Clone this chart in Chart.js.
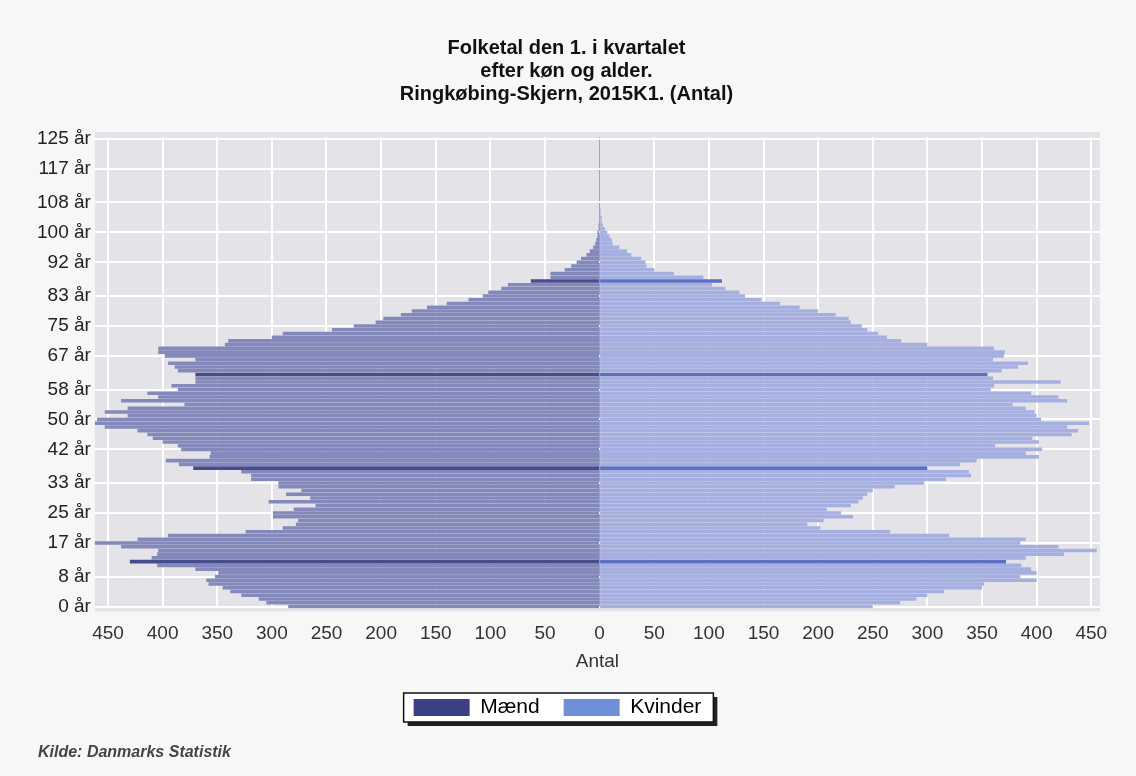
<!DOCTYPE html>
<html><head><meta charset="utf-8">
<script src="https://cdn.jsdelivr.net/npm/chart.js@4/dist/chart.umd.min.js"></script>
<style>
html,body{margin:0;padding:0;background:#f7f7f7;}
#wrap{position:relative;width:1136px;height:776px;}
#source{position:absolute;left:38px;top:743px;font:italic bold 16px "Liberation Sans",Arial,sans-serif;color:#444;}
</style></head><body>
<div id="wrap"><canvas id="c" width="1136" height="776"></canvas><div id="source">Kilde: Danmarks Statistik</div></div>
<script>
const ages = [0,1,2,3,4,5,6,7,8,9,10,11,12,13,14,15,16,17,18,19,20,21,22,23,24,25,26,27,28,29,30,31,32,33,34,35,36,37,38,39,40,41,42,43,44,45,46,47,48,49,50,51,52,53,54,55,56,57,58,59,60,61,62,63,64,65,66,67,68,69,70,71,72,73,74,75,76,77,78,79,80,81,82,83,84,85,86,87,88,89,90,91,92,93,94,95,96,97,98,99,100,101,102,103,104,105,106,107,108,109,110,111,112,113,114,115,116,117,118,119,120,121,122,123,124,125];
const maend = [285,305,312,328,338,345,358,360,352,349,370,405,430,410,405,404,438,466,423,395,324,290,278,276,299,299,280,260,303,265,287,273,294,294,319,319,328,372,385,397,357,356,383,386,400,409,414,423,453,466,460,432,453,432,380,438,404,414,386,392,370,370,370,386,389,395,370,398,404,404,343,340,300,290,245,225,205,198,182,172,158,140,120,107,102,90,84,63,45,45,32,26,21,17,12,9,6,4,3,2,2,1,1,0,0,0,0,0,0,0,0,0,0,0,0,0,0,0,0,0,0,0,0,0,0,0];
const kvinder = [250,275,290,300,315,350,352,400,385,400,395,386,372,390,425,455,420,385,390,320,266,202,190,205,232,221,208,230,237,241,245,250,270,297,317,340,338,300,330,345,402,390,405,362,402,396,432,438,428,448,404,400,398,390,378,428,420,395,358,361,422,360,355,368,383,392,360,370,371,361,300,276,263,255,245,240,230,228,216,200,183,165,148,133,128,115,103,112,95,68,50,43,42,38,29,25,18,12,11,9,7,5,3,2,2,1,1,0,0,0,0,0,0,0,0,0,0,0,0,0,0,0,0,0,0,0];
const yTickAges = [0,8,17,25,33,42,50,58,67,75,83,92,100,108,117,125];
const xTickValues = [-450,-400,-350,-300,-250,-200,-150,-100,-50,0,50,100,150,200,250,300,350,400,450];
const markedAges = [12,37,62,87];

const FONT = '"Liberation Sans", Arial, sans-serif';

const plotBg = {
  id:'plotBg',
  afterLayout(chart){
    const lg = chart.legend;
    if (lg){ lg.left -= 9; lg.right -= 9; }
  },
  beforeDraw(chart){
    const {ctx, chartArea:a} = chart;
    ctx.save();
    ctx.fillStyle = '#e4e4e8';
    ctx.fillRect(a.left, a.top-5, a.right-a.left, a.bottom-a.top+8);
    const hb = chart.legend && chart.legend.legendHitBoxes;
    if (hb && hb.length){
      let l=Infinity,r=-Infinity,t=Infinity,b=-Infinity;
      hb.forEach(h=>{l=Math.min(l,h.left);r=Math.max(r,h.left+h.width);t=Math.min(t,h.top);b=Math.max(b,h.top+h.height);});
      l-=10; r+=12; t-=4; b+=4;
      ctx.fillStyle='#222';
      ctx.fillRect(l+4,t+4,r-l,b-t);
      ctx.fillStyle='#ffffff';
      ctx.fillRect(l,t,r-l,b-t);
      ctx.strokeStyle='#111';
      ctx.lineWidth=1.5;
      ctx.strokeRect(l,t,r-l,b-t);
    }
    ctx.restore();
  }
};

new Chart(document.getElementById('c'), {
  type:'bar',
  data:{
    labels: ages,
    datasets:[
      {label:'Mænd', data: maend.map(v=>-v),
       backgroundColor: c => markedAges.includes(c.dataIndex) ? '#464c8c' : '#8489bb',
       borderWidth:0},
      {label:'Kvinder', data: kvinder,
       backgroundColor: c => markedAges.includes(c.dataIndex) ? '#5b6fc4' : '#a5b0e0',
       borderWidth:0}
    ]
  },
  options:{
    indexAxis:'y',
    responsive:false,
    animation:false,
    devicePixelRatio:1,
    barPercentage:1,
    categoryPercentage:0.95,
    layout:{padding:{left:33,right:36,top:0,bottom:48}},
    plugins:{
      title:{display:true, text:['Folketal den 1. i kvartalet','efter køn og alder.','Ringkøbing-Skjern, 2015K1. (Antal)'],
        color:'#111', font:{family:FONT, size:20, weight:'bold', lineHeight:1.15}, padding:{top:37,bottom:31}},
      legend:{position:'bottom',
        labels:{font:{family:FONT,size:21}, color:'#111', boxWidth:56, boxHeight:17, padding:24,
          generateLabels: chart => [
            {text:'Mænd', fillStyle:'#3b4080', strokeStyle:'#3b4080', lineWidth:0, datasetIndex:0},
            {text:'Kvinder', fillStyle:'#6f8fd8', strokeStyle:'#6f8fd8', lineWidth:0, datasetIndex:1}
          ]}},
      tooltip:{enabled:false}
    },
    scales:{
      x:{stacked:true, min:-462, max:458,
        afterBuildTicks: s => { s.ticks = xTickValues.map(v=>({value:v})); },
        ticks:{callback: v => String(Math.abs(v)), color:'#333', font:{family:FONT,size:19}, padding:14, maxRotation:0, autoSkip:false},
        grid:{color: c => (c.tick && c.tick.value===0) ? '#9aa3d4' : '#ffffff', lineWidth: c => (c.tick && c.tick.value===0) ? 1 : 2, drawTicks:false},
        border:{display:false},
        title:{display:true, text:'Antal', color:'#333', font:{family:FONT,size:19}, padding:{top:-9,bottom:0}}
      },
      y:{stacked:true, reverse:true,
        afterBuildTicks: s => { s.ticks = s.ticks.filter(t => yTickAges.includes(ages[t.value])); },
        ticks:{autoSkip:false, callback: function(v){ return this.getLabelForValue(v) + ' år'; }, color:'#222', font:{family:FONT,size:19}, padding:4},
        grid:{color:'#ffffff', lineWidth:2, offset:false, drawTicks:false},
        border:{display:false}
      }
    }
  },
  plugins:[plotBg]
});
</script>
</body></html>
